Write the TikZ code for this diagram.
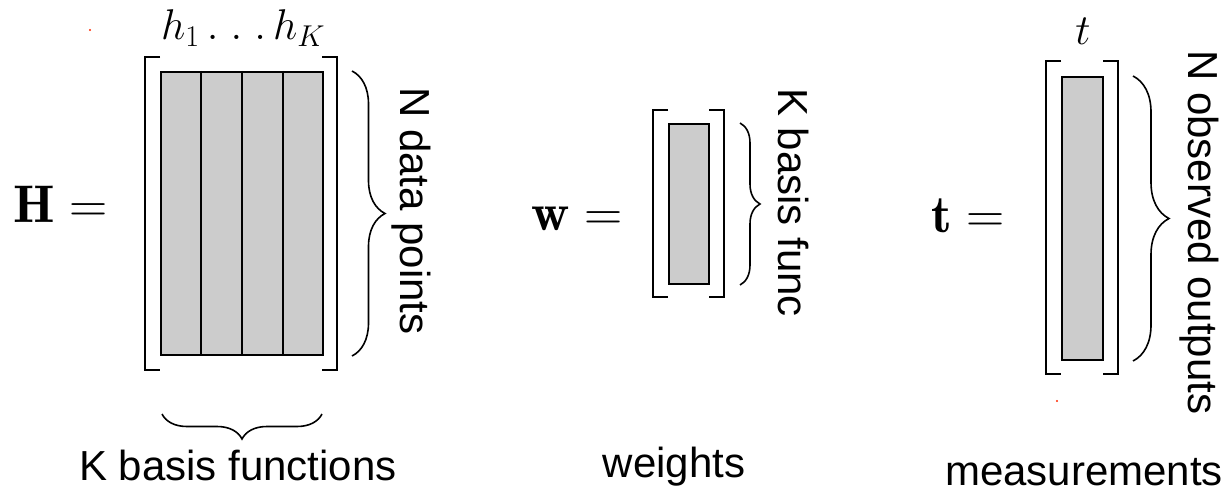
\RequirePackage{fix-cm}
\documentclass[tikz,border=0pt]{standalone}
\usepackage{fontspec}
\newfontfamily\labelfont{Liberation Sans}
\usetikzlibrary{decorations.pathreplacing,calc}
\definecolor{matgray}{RGB}{204,204,204}
\definecolor{dotred}{RGB}{255,40,0}
\tikzset{
  matbody/.style={draw, line width=2pt, fill=matgray, inner sep=0, anchor=north west},
  bracket/.style={line width=2pt},
  bracebar/.style={decorate, decoration={brace, amplitude=#1}, line width=1.6pt},
  sanslabel/.style={font=\labelfont\fontsize{42}{50}\selectfont, inner sep=0},
  mathlabel/.style={font=\fontsize{53}{60}\selectfont, inner sep=0, anchor=base west},
  idxlabel/.style={font=\fontsize{43}{50}\selectfont, inner sep=0},
}
\begin{document}
\begin{tikzpicture}[x=1pt,y=-1pt]
\useasboundingbox (0,0) rectangle (1226,492);

% ---------- design matrix H ----------
\node[mathlabel] (Hname) at (13,222) {$\mathbf{H} =$};
\node[matbody, minimum width=162, minimum height=283] (Hbody) at (160,71) {};
\foreach \f in {0.25,0.5,0.75}
  \draw[line width=2pt] ($(Hbody.north west)!\f!(Hbody.north east)$) -- ($(Hbody.south west)!\f!(Hbody.south east)$);
\draw[bracket] (160,57) -| (145,370) -- (160,370);
\draw[bracket] (322,57) -| (337,370) -- (322,370);
\node[idxlabel, anchor=base west] (Hcols) at (161,40) {$h_1\,.\kern.28em.\kern.28em.\,h_K$};
\draw[bracebar=33pt] ([xshift=28pt]Hbody.north east) -- ([xshift=28pt]Hbody.south east);
\node[sanslabel, rotate=-90, anchor=base west] (Hrows) at (400,87) {N data points};
\draw[bracebar=25pt] ([xshift=-2pt,yshift=-58pt]Hbody.south east) -- ([xshift=2pt,yshift=-58pt]Hbody.south west);
\node[sanslabel, anchor=base] (Hcap) at (238,480) {K basis functions};

% ---------- weight vector w ----------
\node[mathlabel] (wname) at (531,230) {$\mathbf{w} =$};
\node[matbody, minimum width=40, minimum height=160] (wbody) at (668,123) {};
\draw[bracket] (668,110) -| (653,297) -- (668,297);
\draw[bracket] (709,110) -| (724,297) -- (709,297);
\draw[bracebar=20pt] ([xshift=30pt]wbody.north east) -- ([xshift=30pt]wbody.south east);
\node[sanslabel, rotate=-90, anchor=base west] (wrows) at (778,88) {K basis func};
\node[sanslabel, anchor=base] (wcap) at (674,477) {weights};

% ---------- target vector t ----------
\node[mathlabel] (tname) at (931,232) {$\mathbf{t} =$};
\node[matbody, minimum width=41, minimum height=283] (tbody) at (1061,76) {};
\draw[bracket] (1061,61) -| (1046,374) -- (1061,374);
\draw[bracket] (1103,61) -| (1118,374) -- (1103,374);
\node[idxlabel, anchor=base] (tcol) at (1083,45) {$t$};
\draw[bracebar=36pt] ([xshift=29pt]tbody.north east) -- ([xshift=29pt]tbody.south east);
\node[sanslabel, rotate=-90, anchor=base west] (trows) at (1188,50) {N observed outputs};
\node[sanslabel, anchor=base] (tcap) at (1084,485) {measurements};

% stray marks
\fill[dotred] (90,30) circle (1.2pt);
\fill[dotred] (1057,401) circle (1.2pt);
\end{tikzpicture}
\end{document}
